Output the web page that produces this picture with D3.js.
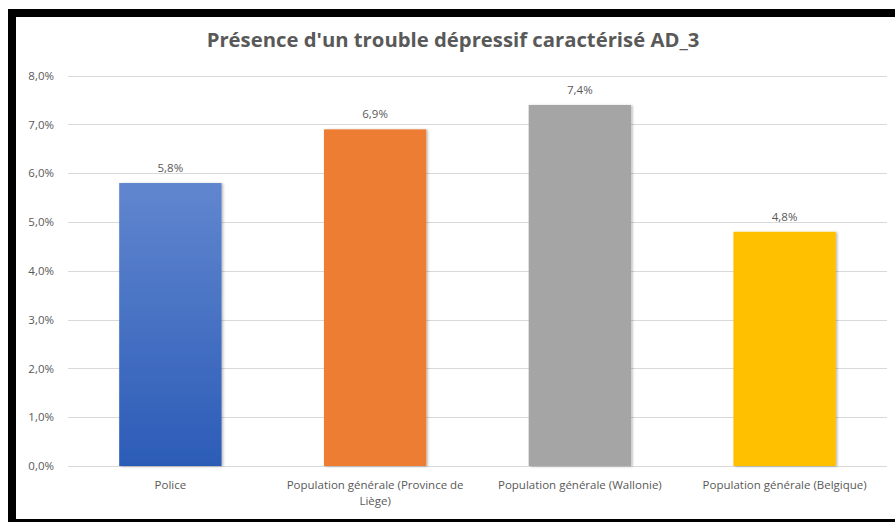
<!DOCTYPE html>
<html><head><meta charset="utf-8">
<script src="https://cdn.jsdelivr.net/npm/d3@7"></script>
<style>
html,body{margin:0;padding:0;background:#fff;}
svg{display:block;}
</style></head>
<body>
<svg id="c" width="895" height="522"></svg>
<script>
const title = "Présence d'un trouble dépressif caractérisé AD_3";
const categories = ["Police", "Population générale (Province de Liège)", "Population générale (Wallonie)", "Population générale (Belgique)"];
const values = [0.058, 0.069, 0.074, 0.048];
const colors = ["#3f6ec6", "#ed7d31", "#a5a5a5", "#ffc000"];
const yTicks = [0, 0.01, 0.02, 0.03, 0.04, 0.05, 0.06, 0.07, 0.08];

const W = 895, H = 522;
const svg = d3.select("#c");
const fontFam = "'Open Sans', 'Noto Sans', sans-serif";
const txtCol = "#595959";
const fmt = v => d3.format(".1f")(v * 100).replace(".", ",") + "%";

// frame
svg.append("rect").attr("x", 0).attr("y", 0).attr("width", W).attr("height", H).attr("fill", "#fff");
svg.append("rect").attr("x", 8).attr("y", 9).attr("width", W - 8).attr("height", 8).attr("fill", "#000");
svg.append("rect").attr("x", 8).attr("y", 9).attr("width", 8).attr("height", H - 9).attr("fill", "#000");
svg.append("rect").attr("x", 8).attr("y", 519).attr("width", W - 8).attr("height", 3).attr("fill", "#000");

const defs = svg.append("defs");
const grad = defs.append("linearGradient").attr("id", "gBlue").attr("x1", 0).attr("y1", 0).attr("x2", 0).attr("y2", 1);
grad.append("stop").attr("offset", "0%").attr("stop-color", "#6186cf");
grad.append("stop").attr("offset", "100%").attr("stop-color", "#2c5cb7");
const sh = defs.append("filter").attr("id", "sh").attr("x", "-10%").attr("y", "-10%").attr("width", "130%").attr("height", "120%");
sh.append("feDropShadow").attr("dx", 1.5).attr("dy", 0.5).attr("stdDeviation", 1.2).attr("flood-color", "#000").attr("flood-opacity", 0.28);

const x = d3.scaleBand().domain(categories).range([68, 887]).paddingInner(0.5).paddingOuter(0.25);
const y = d3.scaleLinear().domain([0, 0.08]).range([466, 75.7]);

// gridlines
svg.append("g").selectAll("line").data(yTicks).join("line")
  .attr("x1", 68).attr("x2", 887)
  .attr("y1", d => Math.round(y(d)) + 0.5).attr("y2", d => Math.round(y(d)) + 0.5)
  .attr("stroke", "#d9d9d9").attr("stroke-width", 1);

// y axis labels
const yAxis = d3.axisLeft(y).tickValues(yTicks).tickFormat(fmt).tickSize(0).tickPadding(0);
const ya = svg.append("g").attr("transform", "translate(54,0)").call(yAxis);
ya.select(".domain").remove();
ya.selectAll("text").attr("fill", txtCol).style("font-family", fontFam).style("font-size", "11.5px");

// bars
svg.append("g").selectAll("rect").data(categories).join("rect")
  .attr("x", d => x(d)).attr("width", x.bandwidth())
  .attr("y", (d, i) => y(values[i])).attr("height", (d, i) => y(0) - y(values[i]))
  .attr("fill", (d, i) => i === 0 ? "url(#gBlue)" : colors[i])
  .attr("filter", "url(#sh)");

// value labels
svg.append("g").selectAll("text").data(categories).join("text")
  .attr("x", d => x(d) + x.bandwidth() / 2)
  .attr("y", (d, i) => y(values[i]) - 11)
  .attr("text-anchor", "middle").attr("fill", txtCol)
  .style("font-family", fontFam).style("font-size", "11.5px")
  .text((d, i) => fmt(values[i]));

// x labels with wrapping
const xg = svg.append("g");
const labelFs = 11.5;
const maxW = 196;
categories.forEach(c => {
  const words = c.split(" ");
  let lines = [], cur = [];
  const probe = xg.append("text").style("font-family", fontFam).style("font-size", labelFs + "px");
  words.forEach(w => {
    const test = cur.concat([w]).join(" ");
    probe.text(test);
    if (probe.node().getComputedTextLength() > maxW && cur.length) {
      lines.push(cur.join(" ")); cur = [w];
    } else cur.push(w);
  });
  lines.push(cur.join(" "));
  probe.remove();
  lines.forEach((l, i) => {
    xg.append("text").attr("text-anchor", "middle").attr("fill", txtCol)
      .style("font-family", fontFam).style("font-size", labelFs + "px")
      .attr("x", x(c) + x.bandwidth() / 2).attr("y", 489 + i * 16).text(l);
  });
});

// title
const tt = svg.append("text").attr("x", 453).attr("y", 47).attr("text-anchor", "middle")
  .attr("fill", txtCol).style("font-family", fontFam).style("font-weight", "bold").style("font-size", "18px")
  .text(title);
const tw = tt.node().getComputedTextLength();
tt.style("font-size", (18 * 493 / tw) + "px");
</script>
</body></html>
